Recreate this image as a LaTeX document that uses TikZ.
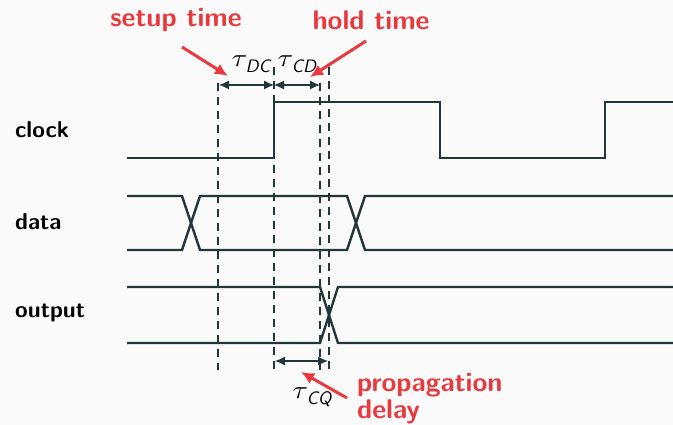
\documentclass[tikz,border=0pt]{standalone}
\usepackage{graphicx}
\usetikzlibrary{arrows.meta}
\definecolor{ink}{HTML}{23373B}
\definecolor{alert}{HTML}{E8393F}
\definecolor{bg}{HTML}{FAFAFA}
% tau with a sans italic subscript
\newcommand\taulab[1]{\scalebox{2.8}[2.5]{$\tau$}\kern-1.5pt\raisebox{-6pt}{\scalebox{1.8}{\sffamily\itshape #1}}}
\begin{document}
\begin{tikzpicture}[x=1pt,y=-1pt,
  sig/.style={draw=ink,line width=2.4pt,line join=miter},
  guide/.style={draw=ink,line width=2.2pt,dash pattern=on 8pt off 6pt},
  span/.style={draw=ink,line width=1.2pt,{Latex[length=10pt,width=9pt]}-{Latex[length=10pt,width=9pt]}},
  callout/.style={draw=alert,line width=3pt,-{Latex[length=13pt,width=12pt]}},
  signame/.style={font=\fontsize{23}{23}\selectfont\sffamily\bfseries,text=black,anchor=west,inner sep=0pt},
  note/.style={font=\fontsize{27}{27}\selectfont\sffamily\bfseries,text=alert,inner sep=0pt},
  tlabel/.style={text=black,inner sep=0pt}]
\fill[bg] (0,0) rectangle (673,425);
\useasboundingbox (0,0) rectangle (673,425);

% signal names
\node[signame] (nclock) at (15,130) {clock};
\node[signame] (ndata) at (15,222) {data};
\node[signame] (noutput) at (15,313) {output};

% clock waveform
\draw[sig] (127,158) -- (274,158) -- (274,102) -- (440,102) -- (440,158)
  -- (605,158) -- (605,102) -- (673,102);
% data waveform
\draw[sig] (127,196) -- (182,196) -- (200,250) -- (347,250) -- (365,196) -- (673,196);
\draw[sig] (127,250) -- (182,250) -- (200,196) -- (347,196) -- (365,250) -- (673,250);
% output waveform
\draw[sig] (127,287) -- (320,287) -- (338,343) -- (673,343);
\draw[sig] (127,343) -- (320,343) -- (338,287) -- (673,287);

% timing guides
\coordinate (g1t) at (218,83);  \coordinate (g1b) at (218,370);
\coordinate (g2t) at (274,67);  \coordinate (g2b) at (274,370);
\coordinate (g3t) at (320,83);  \coordinate (g3b) at (320,370);
\coordinate (g4t) at (329,67);  \coordinate (g4b) at (329,370);
\draw[guide] (g1t) -- (g1b);
\draw[guide] (g2t) -- (g2b);
\draw[guide] (g3t) -- (g3b);
\draw[guide] (g4t) -- (g4b);

% interval arrows
\coordinate (a1) at (219,85);  \coordinate (a2) at (274,85);  \coordinate (a3) at (320,85);
\coordinate (q1) at (275,361); \coordinate (q2) at (328,361);
\draw[span] (a1) -- (a2);
\draw[span] (a2) -- (a3);
\draw[span] (q1) -- (q2);
\node[tlabel] (tdc) at (251,64) {\taulab{DC}};
\node[tlabel] (tcd) at (297,64) {\taulab{CD}};
\node[tlabel] (tcq) at (312,397) {\taulab{CQ}};

% annotations
\node[note] (setup) at (176,20) {setup time};
\node[note] (hold) at (371,20) {hold time};
\node[note,anchor=base west] (prop) at (357,391) {propagation};
\node[note,anchor=base west] (delay) at (357,418) {delay};
\coordinate (s0) at (182,47);  \coordinate (s1) at (228,76);
\coordinate (h0) at (366,41);  \coordinate (h1) at (310,77);
\coordinate (p0) at (347,398); \coordinate (p1) at (301,372);
\draw[callout] (s0) -- (s1);
\draw[callout] (h0) -- (h1);
\draw[callout] (p0) -- (p1);
\end{tikzpicture}
\end{document}
